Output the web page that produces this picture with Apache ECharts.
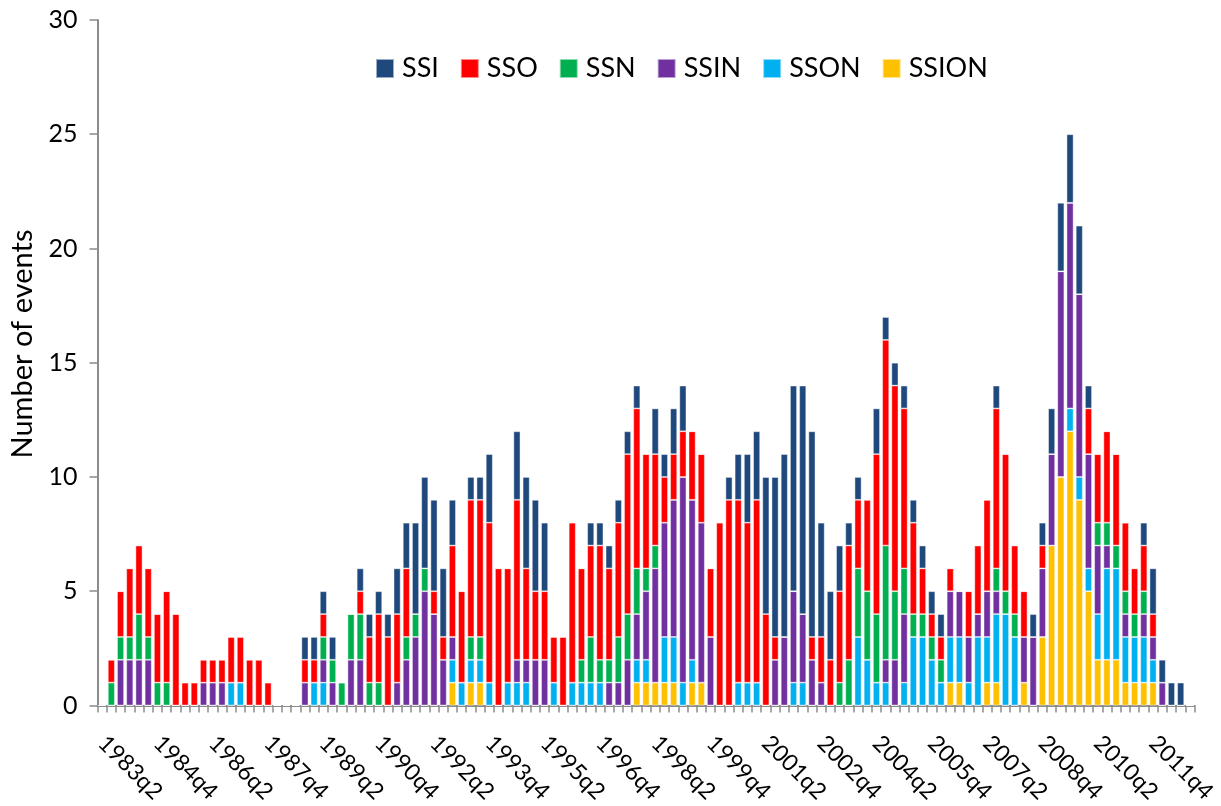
<!DOCTYPE html>
<html>
<head>
<meta charset="utf-8">
<script src="https://cdn.jsdelivr.net/npm/echarts@6/dist/echarts.min.js"></script>
<style>
html,body{margin:0;padding:0;background:#fff;}
#chart{width:1221px;height:806px;}
</style>
</head>
<body>
<div id="chart"></div>
<script>
// Quarters 1983q2 .. 2012q4 (119 categories)
const categories = [];
for (let y = 1983, q = 2; categories.length < 119; ) {
  categories.push(y + 'q' + q);
  q++; if (q > 4) { q = 1; y++; }
}

const seriesNames = ['SSI', 'SSO', 'SSN', 'SSIN', 'SSON', 'SSION'];

const SSI = [0,0,0,0,0,0,0,0,0,0, 0,0,0,0,0,0,0,0,0,0, 0,0,1,1,1,1,0,0,1,1, 1,1,2,2,4,4,4,3,2,0, 1,1,3,0,0,3,4,4,3,0, 0,0,0,1,1,1,1,1,1,0, 2,1,2,2,0,0,0,0,1,2, 3,3,6,7,8,9,10,9,5,3, 2,1,1,0,2,1,1,1,1,1, 1,1,0,0,0,0,0,1,0,0, 0,1,1,2,3,3,3,1,0,0, 0,0,0,1,2,1,1,1,0];
const SSO = [0,1,2,3,3,3,3,4,4,1, 1,1,1,1,2,2,2,2,1,0, 0,0,1,1,1,0,0,0,1,2, 3,3,3,3,0,0,1,1,4,4, 6,6,7,6,5,7,4,3,3,2, 3,7,4,4,5,4,5,7,7,5, 4,2,2,2,3,3,3,8,9,8, 7,8,4,1,0,0,0,1,2,2, 4,5,3,4,7,9,9,7,4,2, 1,1,1,0,2,3,4,7,6,3, 2,0,1,0,0,0,0,2,3,4, 4,3,2,2,1,0,0,0,0];
const SSN = [0,1,1,1,2,1,1,1,0,0, 0,0,0,0,0,0,0,0,0,0, 0,0,0,0,1,1,1,2,2,1, 1,0,0,1,1,1,0,0,0,0, 1,1,0,0,0,0,0,0,0,0, 0,0,1,2,1,1,2,2,2,1, 1,0,0,0,0,0,0,0,0,0, 0,0,0,0,0,0,0,0,0,0, 1,2,3,3,3,5,3,2,1,1, 1,1,0,0,0,0,0,1,1,1, 0,0,0,0,0,0,0,0,1,1, 1,1,1,1,0,0,0,0,0];
const SSIN = [0,0,2,2,2,2,0,0,0,0, 0,1,1,1,0,0,0,0,0,0, 0,0,1,0,1,1,0,2,2,0, 0,0,1,2,3,5,4,2,1,0, 0,0,0,0,0,1,1,2,2,0, 0,0,0,0,0,1,1,2,2,3, 5,5,6,9,7,7,3,0,0,0, 0,0,0,2,3,4,3,2,1,0, 0,0,0,0,0,1,2,3,0,0, 0,0,2,2,2,1,2,1,0,0, 2,3,3,4,9,9,8,5,3,1, 0,1,0,1,1,1,0,0,0];
const SSON = [0,0,0,0,0,0,0,0,0,0, 0,0,0,0,1,1,0,0,0,0, 0,0,0,1,1,0,0,0,0,0, 0,0,0,0,0,0,0,0,1,1, 1,1,1,0,1,1,1,0,0,1, 0,1,1,1,1,0,0,0,1,1, 0,2,2,1,1,0,0,0,0,1, 1,1,0,0,0,1,1,0,0,0, 0,0,3,2,1,1,0,1,3,3, 2,1,2,2,1,3,2,3,4,3, 0,0,0,0,0,1,1,1,2,4, 4,2,2,2,1,0,0,0,0];
const SSION = [0,0,0,0,0,0,0,0,0,0, 0,0,0,0,0,0,0,0,0,0, 0,0,0,0,0,0,0,0,0,0, 0,0,0,0,0,0,0,0,1,0, 1,1,0,0,0,0,0,0,0,0, 0,0,0,0,0,0,0,0,1,1, 1,1,1,0,1,1,0,0,0,0, 0,0,0,0,0,0,0,0,0,0, 0,0,0,0,0,0,0,0,0,0, 0,0,1,1,0,0,1,1,0,0, 1,0,3,7,10,12,9,5,2,2, 2,1,1,1,1,0,0,0,0];

const colors = {SSI:'#1F497D', SSO:'#FF0000', SSN:'#00B050', SSIN:'#7030A0', SSON:'#00B0F0', SSION:'#FFC000'};
const dataByName = {SSI, SSO, SSN, SSIN, SSON, SSION};

// stacking order bottom -> top
const stackOrder = ['SSION', 'SSON', 'SSIN', 'SSN', 'SSO', 'SSI'];

const FONT = 'Lato';
const chart = echarts.init(document.getElementById('chart'), null, {renderer: 'canvas'});

chart.setOption({
  animation: false,
  backgroundColor: '#ffffff',
  grid: {left: 97.5, right: 26.5, top: 20, bottom: 97, containLabel: false},
  legend: {
    data: seriesNames,
    left: 375,
    top: 55,
    padding: 0,
    itemWidth: 18,
    itemHeight: 19,
    itemGap: 21,
    icon: 'rect',
    textStyle: {fontFamily: FONT, fontSize: 27, color: '#000', padding: [0, 0, 0, 3]}
  },
  xAxis: {
    type: 'category',
    data: categories,
    boundaryGap: true,
    axisLine: {lineStyle: {color: '#8c8c8c', width: 2}},
    axisTick: {show: true, interval: 0, length: 7, lineStyle: {color: '#8c8c8c', width: 1.5}},
    axisLabel: {
      interval: 5,
      rotate: -45,
      margin: 34,
      fontFamily: FONT,
      fontSize: 23,
      color: '#000'
    },
    splitLine: {show: false}
  },
  yAxis: {
    type: 'value',
    min: 0, max: 30, interval: 5,
    axisLine: {show: true, lineStyle: {color: '#8c8c8c', width: 2}},
    axisTick: {show: true, length: 8, lineStyle: {color: '#8c8c8c', width: 1.5}},
    axisLabel: {margin: 20, fontFamily: FONT, fontSize: 25, color: '#000'},
    splitLine: {show: false}
  },
  graphic: [{
    type: 'text',
    x: 23, y: 344,
    rotation: Math.PI / 2,
    style: {
      text: 'Number of events',
      fontFamily: FONT,
      fontSize: 29,
      fill: '#000',
      align: 'center',
      verticalAlign: 'middle'
    }
  }],
  series: stackOrder.map(name => ({
    name: name,
    type: 'bar',
    stack: 'total',
    barCategoryGap: '24%',
    data: dataByName[name],
    itemStyle: {color: colors[name], borderColor: 'rgba(255,255,255,0.55)', borderWidth: 0.8}
  }))
});
</script>
</body>
</html>
